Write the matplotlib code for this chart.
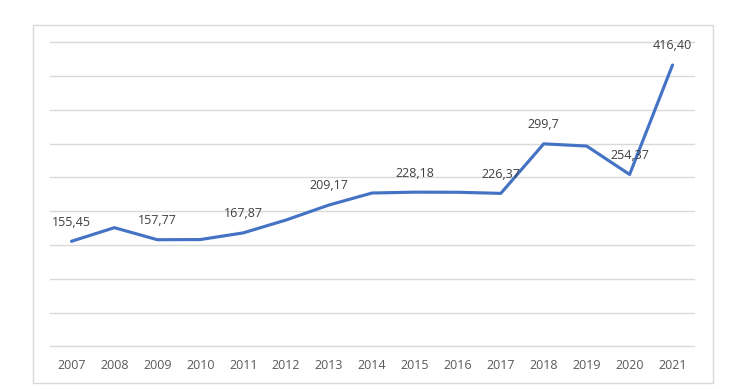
import matplotlib.pyplot as plt
from matplotlib.patches import Rectangle

# Dados
anos = ['2007', '2008', '2009', '2010', '2011', '2012', '2013', '2014',
        '2015', '2016', '2017', '2018', '2019', '2020', '2021']
valores = [155.45, 175.6, 157.77, 158.0, 167.87, 187.0, 209.17, 226.9,
           228.18, 228.0, 226.37, 299.7, 296.4, 254.37, 416.40]
rotulos = ['155,45', '', '157,77', '', '167,87', '', '209,17', '',
           '228,18', '', '226,37', '299,7', '', '254,37', '416,40']

plt.rcParams['font.family'] = ['Open Sans', 'DejaVu Sans']

fig = plt.figure(figsize=(7.42, 3.89), dpi=100)
ax = fig.add_axes([50 / 742, 1 - 346.3 / 389, 644 / 742, 304 / 389])

x = range(len(anos))
ax.plot(x, valores, color='#4472C4', linewidth=2.25, solid_capstyle='round',
        solid_joinstyle='round', zorder=3)

for i, (v, r) in enumerate(zip(valores, rotulos)):
    if r:
        ax.annotate(r, (i, v), xytext=(0, 13.7), textcoords='offset points',
                    ha='center', va='center', fontsize=9, color='#404040', zorder=4)

ax.set_xlim(-0.5, len(anos) - 0.5)
ax.set_ylim(0, 450)
ax.set_yticks(range(0, 451, 50))
ax.set_yticklabels([])
ax.set_xticks(list(x))
ax.set_xticklabels(anos, fontsize=9, color='#595959')
ax.tick_params(axis='both', length=0)
ax.tick_params(axis='x', pad=9)
ax.grid(axis='y', color='#d9d9d9', linewidth=1)
for gl in ax.yaxis.get_gridlines():
    gl.set_clip_on(False)
for s in ax.spines.values():
    s.set_visible(False)

# Moldura do gráfico
fig.patches.append(Rectangle((33 / 742, 1 - 383 / 389), 680 / 742, 358 / 389,
                             transform=fig.transFigure, fill=False,
                             edgecolor='#d9d9d9', linewidth=1))

plt.savefig('out.png', dpi=100)
